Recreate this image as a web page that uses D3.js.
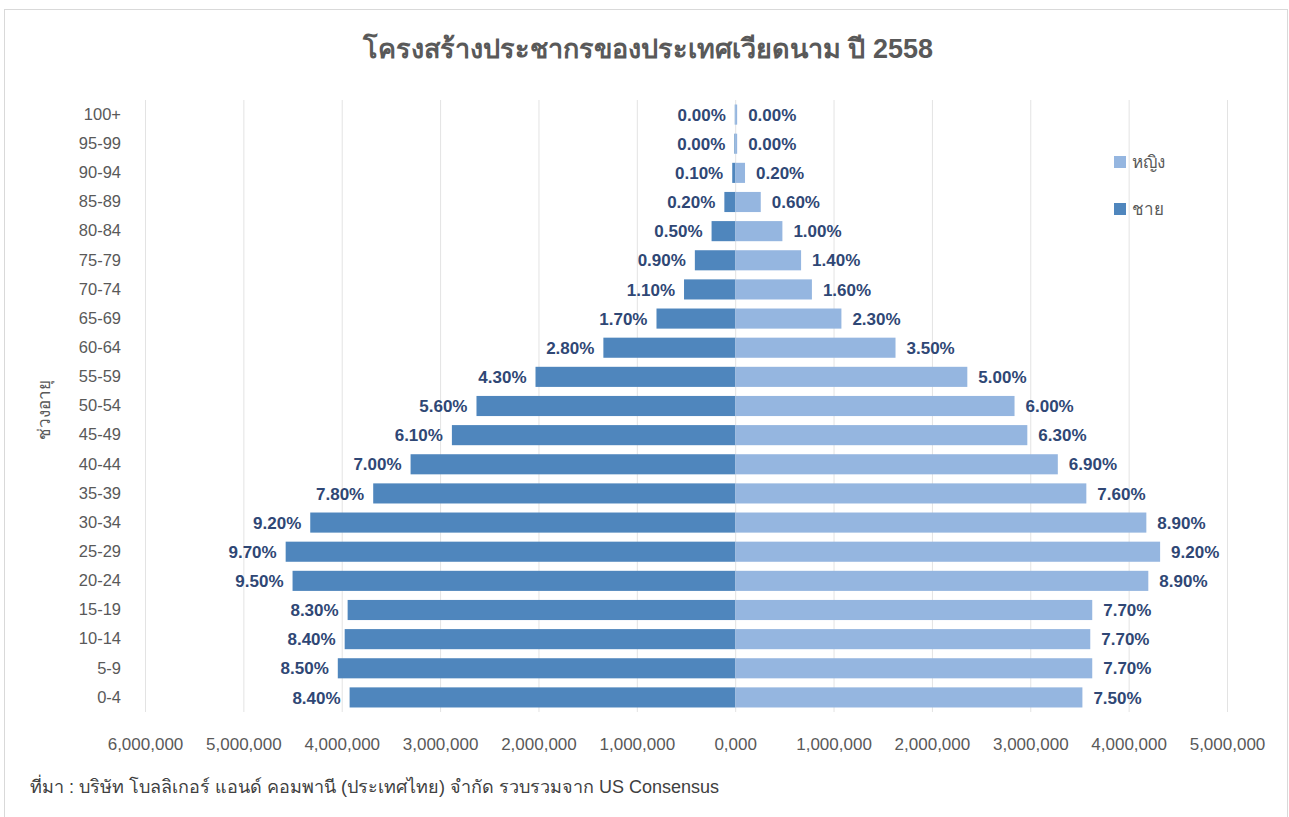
<!DOCTYPE html>
<html>
<head>
<meta charset="utf-8">
<script src="https://cdn.jsdelivr.net/npm/d3@7"></script>
<style>
  body { margin: 0; background: #fff; }
  svg { display: block; font-family: "Liberation Sans", Arial, sans-serif; }
</style>
</head>
<body>
<svg id="chart" width="1289" height="817"></svg>
<script>
const ageGroups = ["0-4","5-9","10-14","15-19","20-24","25-29","30-34","35-39","40-44","45-49","50-54","55-59","60-64","65-69","70-74","75-79","80-84","85-89","90-94","95-99","100+"];
const maleValues = [3920000,4040000,3970000,3940000,4500000,4570000,4320000,3680000,3300000,2880000,2630000,2030000,1340000,800000,520000,410000,240000,110000,30000,8000,4000];
const femaleValues = [3530000,3630000,3610000,3630000,4200000,4320000,4180000,3570000,3280000,2970000,2840000,2360000,1630000,1080000,780000,670000,480000,260000,100000,20000,20000];
const maleLabels = ["8.40%","8.50%","8.40%","8.30%","9.50%","9.70%","9.20%","7.80%","7.00%","6.10%","5.60%","4.30%","2.80%","1.70%","1.10%","0.90%","0.50%","0.20%","0.10%","0.00%","0.00%"];
const femaleLabels = ["7.50%","7.70%","7.70%","7.70%","8.90%","9.20%","8.90%","7.60%","6.90%","6.30%","6.00%","5.00%","3.50%","2.30%","1.60%","1.40%","1.00%","0.60%","0.20%","0.00%","0.00%"];
const tickValues = [-6000000,-5000000,-4000000,-3000000,-2000000,-1000000,0,1000000,2000000,3000000,4000000,5000000];
const tickLabels = ["6,000,000","5,000,000","4,000,000","3,000,000","2,000,000","1,000,000","0,000","1,000,000","2,000,000","3,000,000","4,000,000","5,000,000"];
const seriesNames = ["หญิง","ชาย"];
const titleText = "โครงสร้างประชากรของประเทศเวียดนาม ปี 2558";
const yTitle = "ช่วงอายุ";
const sourceText = "ที่มา : บริษัท โบลลิเกอร์ แอนด์ คอมพานี (ประเทศไทย) จำกัด รวบรวมจาก US Consensus";

const maleColor = "#4f86bd";
const femaleColor = "#95b6e0";
const labelColor = "#2f4775";
const axisTextColor = "#595959";

const svg = d3.select("#chart");

// outer border
svg.append("rect").attr("x", 4.5).attr("y", 9.5).attr("width", 1283).attr("height", 820)
  .attr("fill", "none").attr("stroke", "#d9d9d9").attr("stroke-width", 1);

const x = d3.scaleLinear().domain([-6000000, 5000000]).range([145, 1227]);
const y = d3.scaleBand().domain(ageGroups.slice().reverse()).range([100, 712]).paddingInner(0.31).paddingOuter(0.155);

// gridlines
svg.append("g").selectAll("line").data(tickValues).join("line")
  .attr("x1", d => x(d) + 0.5).attr("x2", d => x(d) + 0.5)
  .attr("y1", 100).attr("y2", 712)
  .attr("stroke", "#e3e3e3").attr("stroke-width", 1);

// x axis tick labels
const xAxis = d3.axisBottom(x).tickValues(tickValues).tickSize(0).tickPadding(0)
  .tickFormat((d, i) => tickLabels[i]);
const gx = svg.append("g").attr("transform", "translate(0,738)").call(xAxis);
gx.select(".domain").remove();
gx.selectAll("text").attr("fill", axisTextColor).attr("font-size", 17).attr("dy", "0.71em");

// y axis labels
const yAxis = d3.axisLeft(y).tickSize(0).tickPadding(0);
const gy = svg.append("g").attr("transform", "translate(121,0)").call(yAxis);
gy.select(".domain").remove();
gy.selectAll("text").attr("fill", axisTextColor).attr("font-size", 16.5);

const rows = ageGroups.map((a, i) => ({ age: a, m: maleValues[i], f: femaleValues[i], ml: maleLabels[i], fl: femaleLabels[i] }));

// male bars
svg.append("g").selectAll("rect").data(rows).join("rect")
  .attr("x", d => x(-d.m)).attr("y", d => y(d.age))
  .attr("width", d => x(0) - x(-d.m)).attr("height", y.bandwidth())
  .attr("fill", maleColor);

// female bars
svg.append("g").selectAll("rect").data(rows).join("rect")
  .attr("x", x(0)).attr("y", d => y(d.age))
  .attr("width", d => x(d.f) - x(0)).attr("height", y.bandwidth())
  .attr("fill", femaleColor);

// labels
svg.append("g").selectAll("text").data(rows).join("text")
  .attr("x", d => x(-d.m) - 9).attr("y", d => y(d.age) + y.bandwidth() / 2)
  .attr("dy", "0.36em").attr("text-anchor", "end")
  .attr("font-size", 17).attr("font-weight", "bold").attr("fill", labelColor)
  .text(d => d.ml);
svg.append("g").selectAll("text").data(rows).join("text")
  .attr("x", d => x(d.f) + 11).attr("y", d => y(d.age) + y.bandwidth() / 2)
  .attr("dy", "0.36em").attr("text-anchor", "start")
  .attr("font-size", 17).attr("font-weight", "bold").attr("fill", labelColor)
  .text(d => d.fl);

// title
svg.append("text").attr("x", 648).attr("y", 58).attr("text-anchor", "middle")
  .attr("font-size", 27).attr("font-weight", "bold").attr("fill", "#595959")
  .text(titleText);

// y title
svg.append("text").attr("transform", "translate(50,410) rotate(-90)")
  .attr("text-anchor", "middle").attr("font-size", 17).attr("fill", axisTextColor)
  .text(yTitle);

// legend
const legendColors = [femaleColor, maleColor];
const lg = svg.append("g").selectAll("g").data(seriesNames).join("g")
  .attr("transform", (d, i) => `translate(1114,${156 + i * 47})`);
lg.append("rect").attr("width", 12).attr("height", 12).attr("fill", (d, i) => legendColors[i]);
lg.append("text").attr("x", 18).attr("y", 6).attr("dy", "0.36em")
  .attr("font-size", 17).attr("fill", axisTextColor).text(d => d);

// source
svg.append("text").attr("x", 30).attr("y", 793)
  .attr("font-size", 18).attr("fill", "#404040").text(sourceText);
</script>
</body>
</html>
